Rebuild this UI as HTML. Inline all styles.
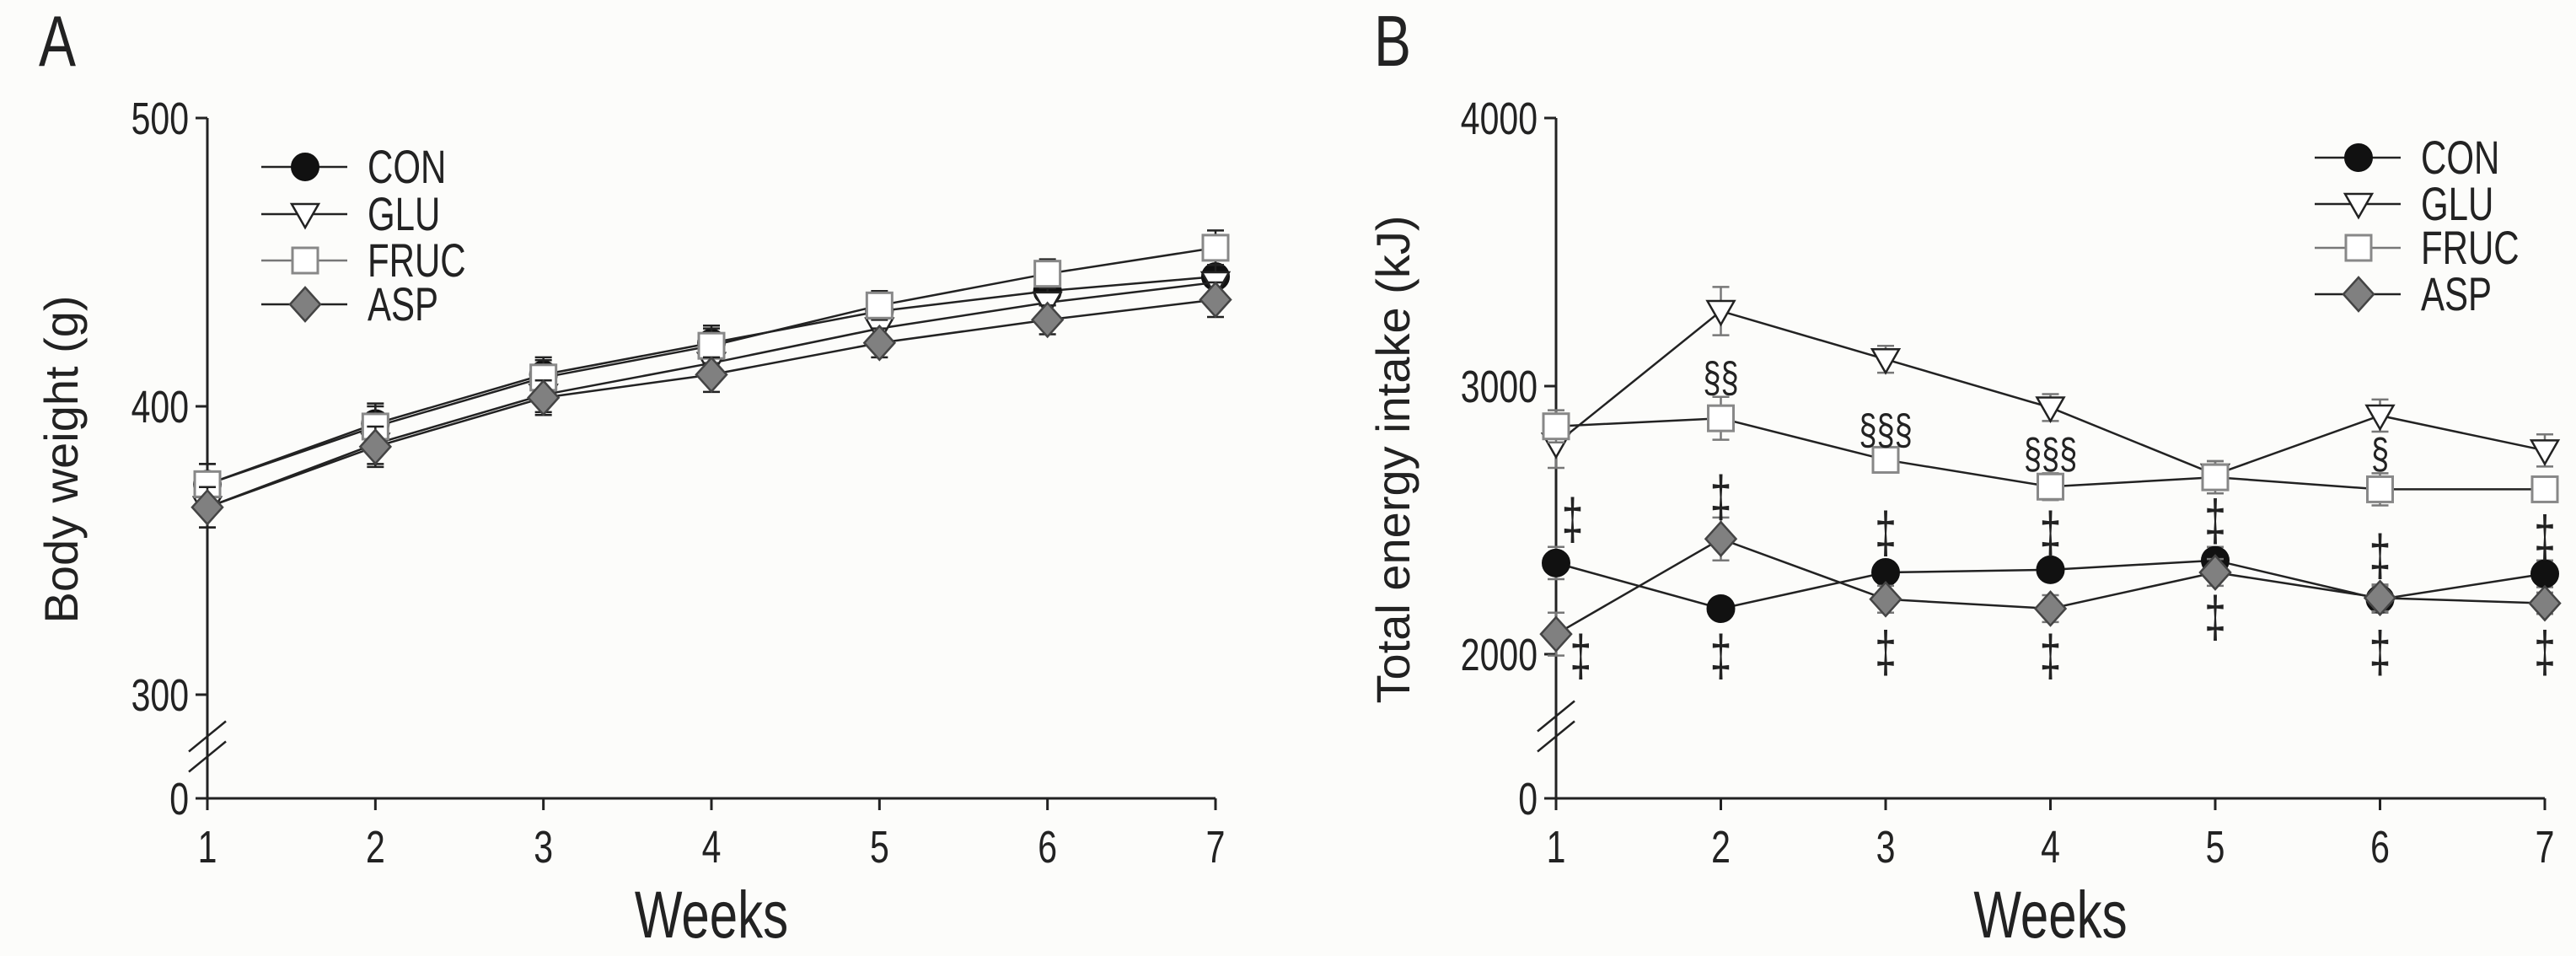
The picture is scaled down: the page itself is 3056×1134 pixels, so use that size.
<!DOCTYPE html>
<html><head><meta charset="utf-8"><style>
html,body{margin:0;padding:0;background:#fcfcfa;}
svg{display:block;font-family:"Liberation Sans",sans-serif;}
</style></head><body>
<svg id="fig" width="3056" height="1134" viewBox="0 0 3056 1134" xmlns="http://www.w3.org/2000/svg">
<rect width="3056" height="1134" fill="#fcfcfa"/>
</svg>
<script>
const weeks = [1,2,3,4,5,6,7];
// Panel A body weight (g)
const aCON  = [373,394,411,422,433,440,445];
const aGLU  = [365,387,404,415,427,436,443];
const aFRUC = [373,393,410,421,435,446,455];
const aASP  = [365,386,403,411,422,430,437];
const aErr  = [7,7,6,6,5,5,6];
const aTicks = [0,300,400,500];
// Panel B energy intake (kJ)
const bCON  = [2340,2170,2305,2315,2350,2205,2300];
const bGLU  = [2785,3280,3100,2920,2670,2890,2760];
const bFRUC = [2850,2880,2725,2625,2660,2615,2615];
const bASP  = [2075,2430,2205,2170,2305,2210,2190];
const bErrCON = [60,40,40,40,50,50,50];
const bErrGLU = [90,90,50,50,50,60,60];
const bErrFRUC= [60,80,30,50,60,60,30];
const bErrASP = [80,80,50,50,50,50,40];
const bTicks = [0,2000,3000,4000];
const secWeeks = [2,3,4,6];
const secVals = [3035,2840,2750,2750];
const secText = ["§§","§§§","§§§","§"];
const ddUpWeeks = [1.1,2,3,4,5,6,7];
const ddUpVals = [2505,2590,2455,2455,2500,2370,2440];
const ddDnWeeks = [1.15,2,3,4,5,6,7];
const ddDnVals = [1995,1995,2010,1995,2140,2010,2010];

const NS="http://www.w3.org/2000/svg";
const svg=document.getElementById('fig');
function mk(tag,attrs,parent){const e=document.createElementNS(NS,tag);for(const k in attrs)e.setAttribute(k,attrs[k]);(parent||svg).appendChild(e);return e;}
function txt(x,y,s,size,anchor,sy,parent){
  const t=mk('text',{x:0,y:0,'text-anchor':anchor,'font-size':size,fill:'#222',transform:`translate(${x},${y}) scale(1,${sy})`},parent);
  t.textContent=s;return t;
}

function panel(cfg){
  const g=mk('g',{});
  
  
  const x=w=>cfg.x0+(w-1)*(cfg.x7-cfg.x0)/6;
  const y=v=>v<=0?cfg.yZero:cfg.yLow+(v-cfg.lowVal)*(cfg.yHigh-cfg.yLow)/(cfg.highVal-cfg.lowVal);
  const ax=mk('line',{x1:cfg.x0,y1:cfg.yHigh,x2:cfg.x0,y2:cfg.yZero,stroke:'#222','stroke-width':3},g);
  
  const xa=mk('line',{x1:cfg.x0,y1:cfg.yZero,x2:cfg.x7,y2:cfg.yZero,stroke:'#222','stroke-width':3},g);
  
  const by=(cfg.yLow+cfg.yZero)/2;
  [-12,12].forEach(d=>{const b=mk('line',{x1:cfg.x0-22,y1:by+d+18,x2:cfg.x0+22,y2:by+d-18,stroke:'#222','stroke-width':2.5},g);
    });
  cfg.ticks.forEach(t=>{const yy=y(t);
    mk('line',{x1:cfg.x0-14,y1:yy,x2:cfg.x0,y2:yy,stroke:'#222','stroke-width':3},g);
    const tl=txt(cfg.x0-22,yy+19,String(t),41,'end',1.32,g);
    });
  weeks.forEach(w=>{const xx=x(w);
    mk('line',{x1:xx,y1:cfg.yZero,x2:xx,y2:cfg.yZero+14,stroke:'#222','stroke-width':3},g);
    const tl=txt(xx,cfg.yZero+76,String(w),41,'middle',1.32,g);
    });
  const xt=txt((cfg.x0+cfg.x7)/2,1112,'Weeks',60,'middle',1.32,g);
  
  const yt=mk('text',{x:0,y:0,'text-anchor':'middle','font-size':56,fill:'#222',transform:`translate(${cfg.ytx},${cfg.yty}) rotate(-90)`},g);yt.textContent=cfg.ytitle;
  
  const pl=txt(cfg.labx,78,cfg.label,66,'start',1.3,g);
  
  cfg.series.forEach(s=>{
    const sg=mk('g',{},g);
    
    
    const pts=weeks.map((w,i)=>x(w)+','+y(s.vals[i])).join(' ');
    mk('polyline',{points:pts,fill:'none',stroke:'#222','stroke-width':2.5},sg);
    weeks.forEach((w,i)=>{const xx=x(w),yt2=y(s.vals[i]+s.err[i]),yb=y(s.vals[i]-s.err[i]);
      const eb=mk('path',{d:`M${xx},${yt2}V${yb}M${xx-10},${yt2}H${xx+10}M${xx-10},${yb}H${xx+10}`,stroke:s.ec,'stroke-width':2.5,fill:'none'},sg);
      });
    weeks.forEach((w,i)=>{const m=marker(s.key,x(w),y(s.vals[i]),sg);
      
      });
  });
  const lg=mk('g',{},g);
  
  ['CON','GLU','FRUC','ASP'].forEach((k,i)=>{
    const ly=cfg.legY[i];
    const eg=mk('g',{},lg);
    
    
    mk('line',{x1:cfg.legX,y1:ly,x2:cfg.legX+102,y2:ly,stroke:k==='FRUC'?'#777':'#222','stroke-width':2.5},eg);
    marker(k,cfg.legX+52,ly,eg);
    txt(cfg.legX+126,ly+19,k,42,'start',1.32,eg);
  });
  return {g,x,y};
}
function marker(k,cx,cy,p){
  if(k==='CON') return mk('circle',{cx,cy,r:16,fill:'#111',stroke:'#111','stroke-width':2},p);
  if(k==='GLU') return mk('path',{d:`M${cx-16},${cy-12}H${cx+16}L${cx},${cy+16}Z`,fill:'#fff',stroke:'#222','stroke-width':2.5},p);
  if(k==='FRUC') return mk('rect',{x:cx-15,y:cy-15,width:30,height:30,fill:'#fff',stroke:'#888','stroke-width':3},p);
  return mk('path',{d:`M${cx},${cy-20}L${cx+18},${cy}L${cx},${cy+20}L${cx-18},${cy}Z`,fill:'#808080',stroke:'#444','stroke-width':2.5},p);
}
panel({name:'panel-a-body-weight',label:'A',labx:46,x0:246,x7:1442,yZero:947,yLow:824,yHigh:140,lowVal:300,highVal:500,ticks:aTicks,
  ytitle:'Body weight (g)',ytx:92,yty:545,legX:310,legY:[198,254,309,361],
  series:[{key:'CON',vals:aCON,err:aErr,ec:'#222'},{key:'GLU',vals:aGLU,err:aErr,ec:'#222'},{key:'FRUC',vals:aFRUC,err:aErr,ec:'#222'},{key:'ASP',vals:aASP,err:aErr,ec:'#222'}]});
const B=panel({name:'panel-b-energy-intake',label:'B',labx:1630,x0:1846,x7:3019,yZero:947,yLow:776,yHigh:140,lowVal:2000,highVal:4000,ticks:bTicks,
  ytitle:'Total energy intake (kJ)',ytx:1672,yty:545,legX:2746,legY:[187,242,294,349],
  series:[{key:'CON',vals:bCON,err:bErrCON,ec:'#777'},{key:'GLU',vals:bGLU,err:bErrGLU,ec:'#777'},{key:'FRUC',vals:bFRUC,err:bErrFRUC,ec:'#777'},{key:'ASP',vals:bASP,err:bErrASP,ec:'#777'}]});
secWeeks.forEach((w,i)=>{const t=txt(B.x(w),B.y(secVals[i])+18,secText[i],38,'middle',1.35,B.g);
  });
ddUpWeeks.forEach((w,i)=>{const t=txt(B.x(w),B.y(ddUpVals[i])+24,'‡',46,'middle',1.5,B.g);
  });
ddDnWeeks.forEach((w,i)=>{const t=txt(B.x(w),B.y(ddDnVals[i])+24,'‡',46,'middle',1.5,B.g);
  });
</script>
</body></html>
